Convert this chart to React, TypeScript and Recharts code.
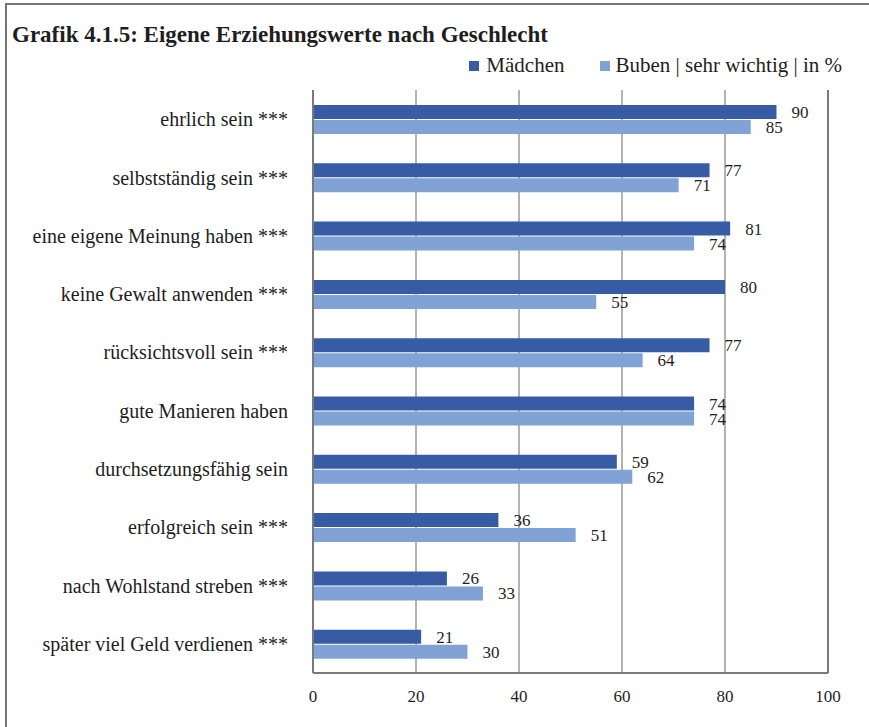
import React from "react";
import {
  BarChart,
  Bar,
  XAxis,
  YAxis,
  CartesianGrid,
  LabelList,
  ReferenceLine,
} from "recharts";

const categories = [
  "ehrlich sein ***",
  "selbstständig sein ***",
  "eine eigene Meinung haben ***",
  "keine Gewalt anwenden ***",
  "rücksichtsvoll sein ***",
  "gute Manieren haben",
  "durchsetzungsfähig sein",
  "erfolgreich sein ***",
  "nach Wohlstand streben ***",
  "später viel Geld verdienen ***",
];
const maedchen = [90, 77, 81, 80, 77, 74, 59, 36, 26, 21];
const buben = [85, 71, 74, 55, 64, 74, 62, 51, 33, 30];
const xTicks = [0, 20, 40, 60, 80, 100];
const seriesNames = ["Mädchen", "Buben | sehr wichtig | in %"];
const title = "Grafik 4.1.5: Eigene Erziehungswerte nach Geschlecht";

const data = categories.map((name, i) => ({ name, m: maedchen[i], b: buben[i] }));

const FONT = "'Liberation Serif', 'DejaVu Serif', serif";
const DARK = "#375ca5";
const LIGHT = "#80a2d4";
const TEXT = "#1e1e1e";
const FRAME = "#767676";

export default function App() {
  return (
    <div
      style={{
        position: "fixed",
        left: 0,
        top: 0,
        width: 869,
        height: 727,
        background: "#fff",
        fontFamily: FONT,
        overflow: "hidden",
      }}
    >
      <div
        style={{
          position: "absolute",
          left: 12,
          top: 22,
          fontSize: 23,
          fontWeight: "bold",
          color: TEXT,
          whiteSpace: "nowrap",
        }}
      >
        {title}
      </div>
      <div
        style={{
          position: "absolute",
          right: 27,
          top: 53,
          fontSize: 21,
          color: TEXT,
          display: "flex",
          alignItems: "center",
          whiteSpace: "nowrap",
        }}
      >
        <span style={{ display: "inline-block", width: 10, height: 10, background: DARK, marginRight: 7 }} />
        <span style={{ marginRight: 36 }}>{seriesNames[0]}</span>
        <span style={{ display: "inline-block", width: 10, height: 10, background: LIGHT, marginRight: 5 }} />
        <span>{seriesNames[1]}</span>
      </div>
      <div style={{ position: "absolute", left: 0, top: 0 }}>
        <BarChart
          width={869}
          height={727}
          data={data}
          layout="vertical"
          margin={{ top: 90, right: 41, bottom: 24, left: 0 }}
          barCategoryGap="24%"
          barGap={1}
        >
          <CartesianGrid horizontal={false} vertical={true} stroke="#9a9a9a" strokeWidth={1.5} />
          <XAxis
            type="number"
            domain={[0, 100]}
            ticks={xTicks}
            height={30}
            tickLine={false}
            tickSize={0}
            tickMargin={17}
            axisLine={{ stroke: "#7a7a7a", strokeWidth: 2 }}
            tick={{ fontSize: 17, fill: TEXT, fontFamily: FONT }}
          />
          <YAxis
            type="category"
            dataKey="name"
            width={313}
            tickLine={false}
            tickSize={0}
            tickMargin={25}
            axisLine={{ stroke: "#7a7a7a", strokeWidth: 2 }}
            tick={{ fontSize: 20, fill: TEXT, fontFamily: FONT }}
            interval={0}
          />
          <ReferenceLine x={100} stroke="#7a7a7a" strokeWidth={2} />
          <Bar dataKey="m" fill={DARK} barSize={14} isAnimationActive={false}>
            <LabelList dataKey="m" position="right" offset={15} fill={TEXT} fontSize={17} fontFamily={FONT} />
          </Bar>
          <Bar dataKey="b" fill={LIGHT} barSize={14} isAnimationActive={false}>
            <LabelList dataKey="b" position="right" offset={15} fill={TEXT} fontSize={17} fontFamily={FONT} />
          </Bar>
        </BarChart>
      </div>
      <div
        style={{
          position: "absolute",
          left: 5,
          top: 3,
          width: 2,
          height: 724,
          background: FRAME,
          zIndex: 20,
        }}
      />
      <div
        style={{
          position: "absolute",
          left: 5,
          top: 3,
          width: 864,
          height: 2,
          background: FRAME,
          zIndex: 20,
        }}
      />
    </div>
  );
}
